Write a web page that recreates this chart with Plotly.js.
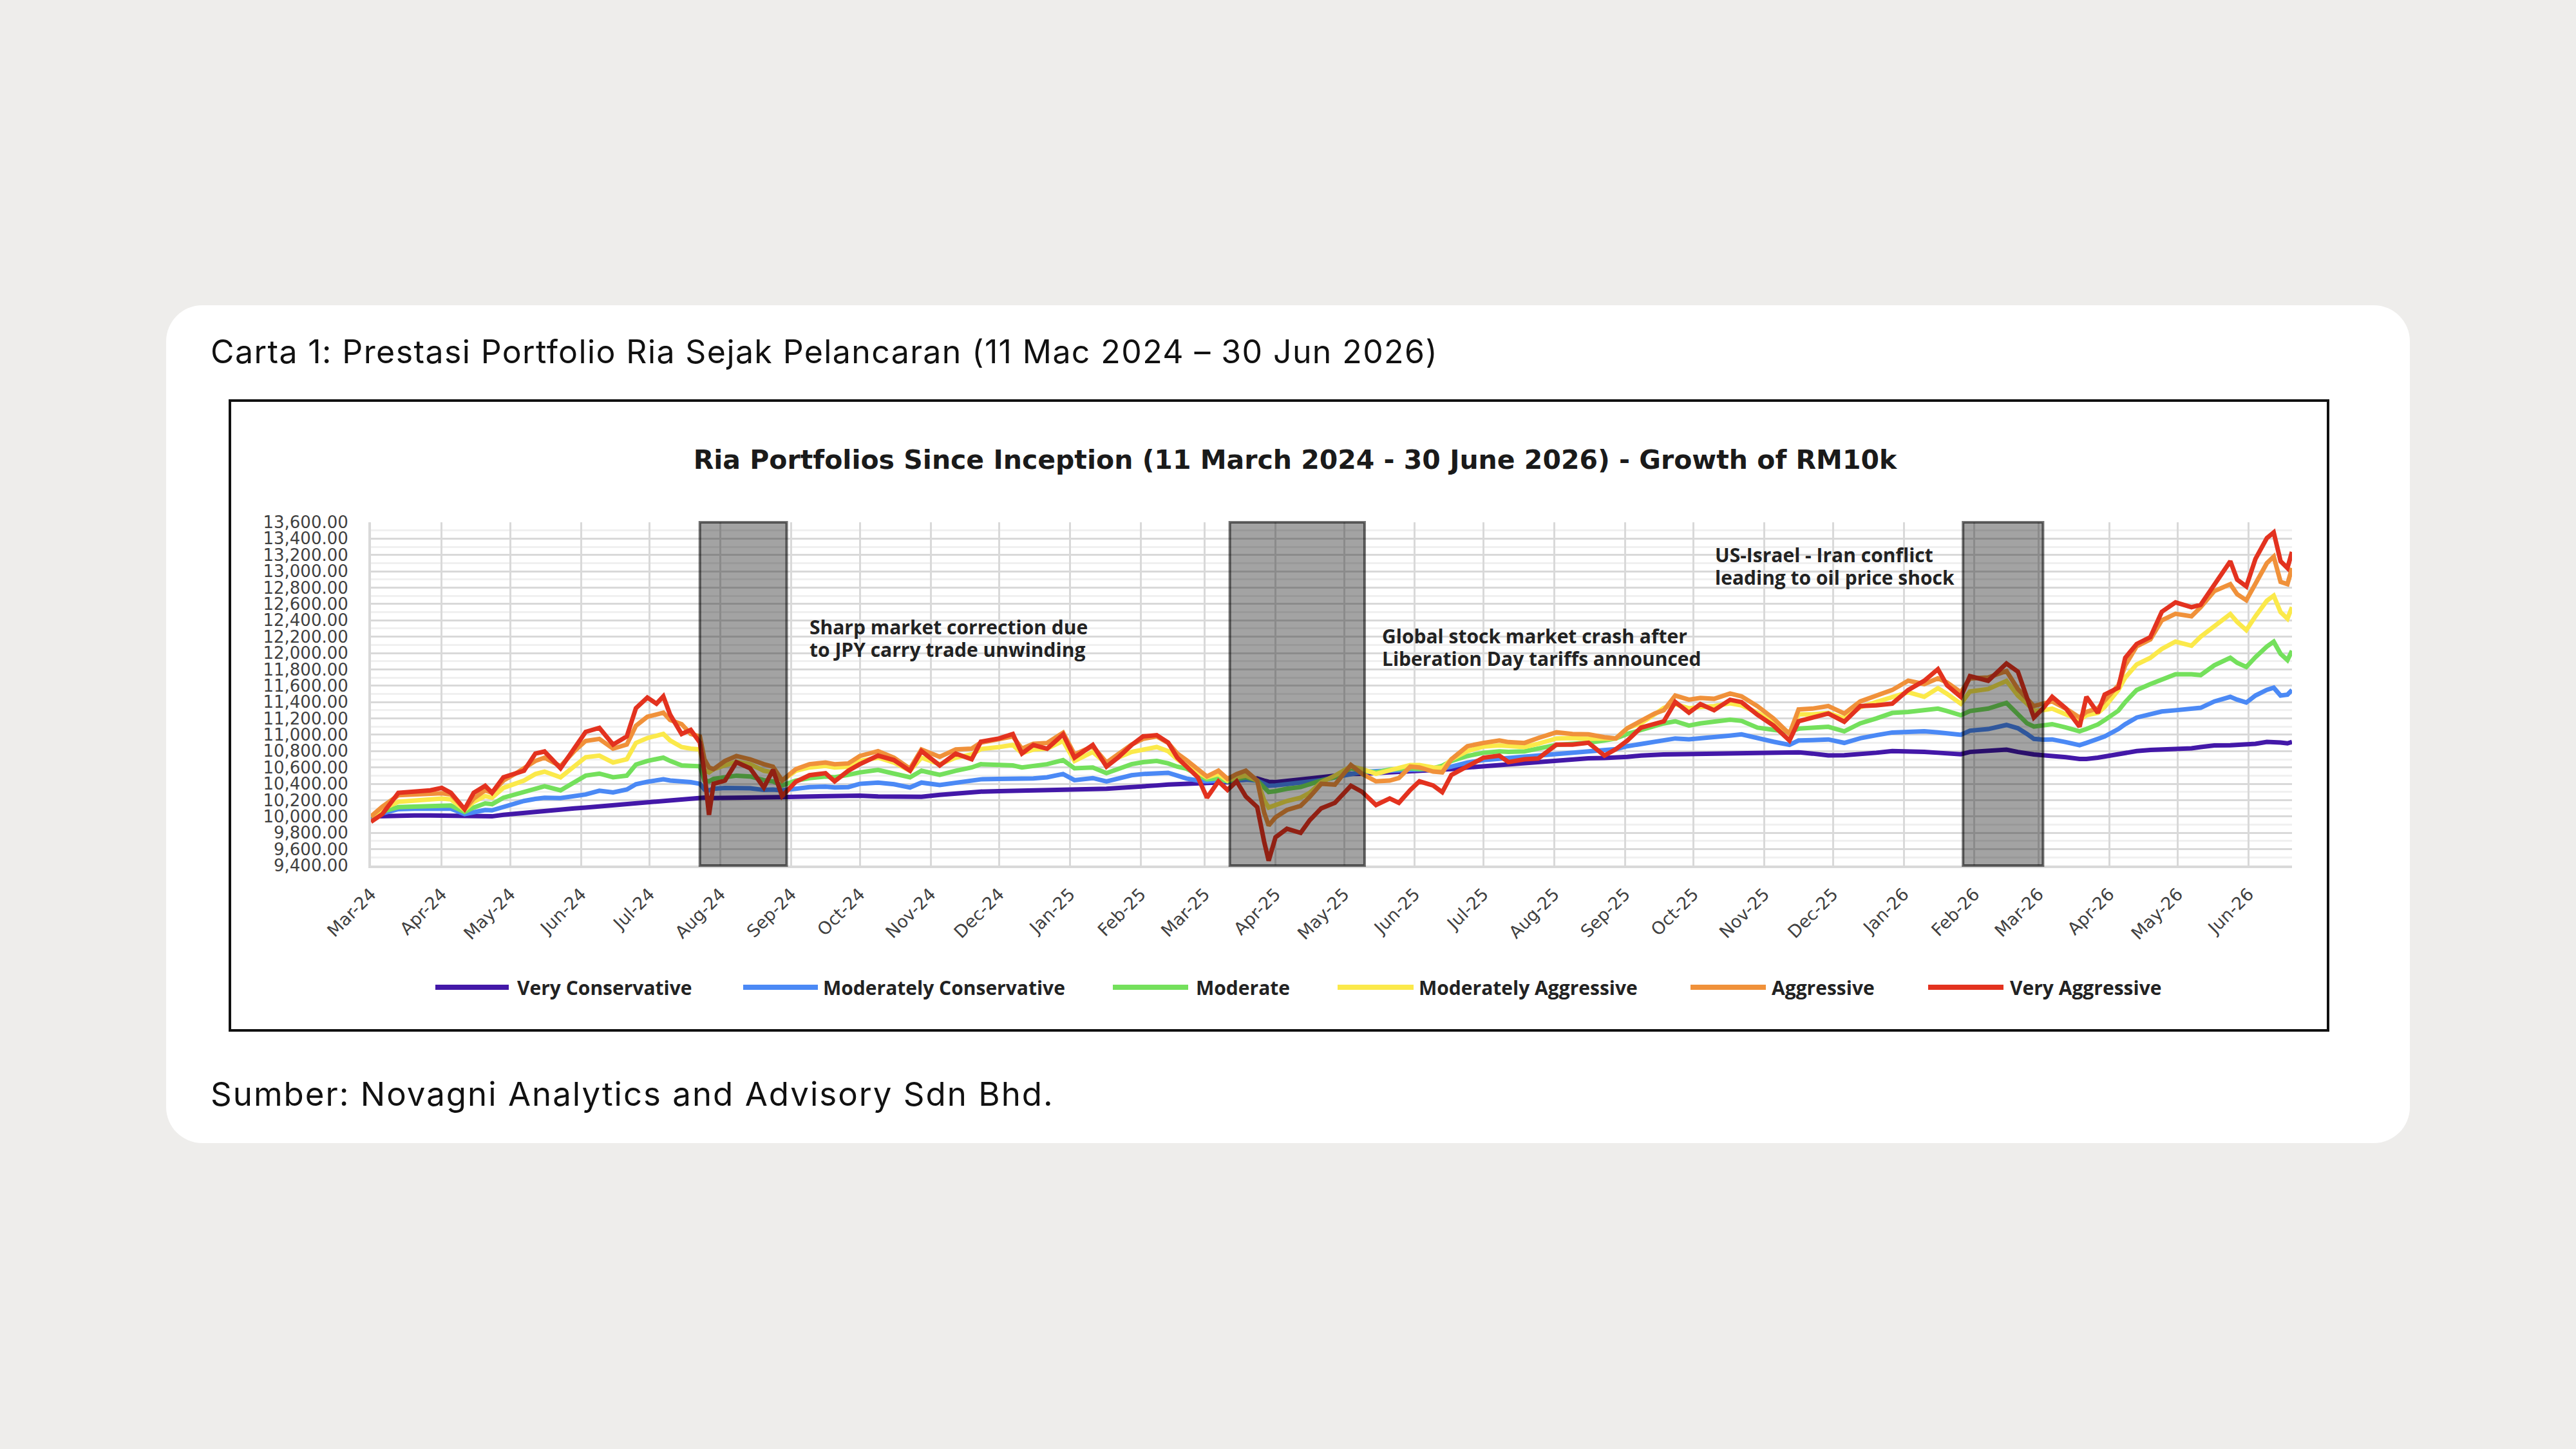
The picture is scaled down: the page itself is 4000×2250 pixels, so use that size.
<!DOCTYPE html>
<html>
<head>
<meta charset="utf-8">
<script src="https://cdn.plot.ly/plotly-3.0.1.min.js"></script>
<style>
  html, body { margin: 0; padding: 0; width: 4000px; height: 2250px; background: #eeedeb; overflow: hidden; }
  .card { position: absolute; left: 258px; top: 474px; width: 3484px; height: 1301px; background: #ffffff; border-radius: 56px; }
  .caption { position: absolute; left: 327px; font-family: Inter, "Noto Sans", sans-serif; font-size: 50px; line-height: 50px; color: #111111; white-space: nowrap; }
  #caption-top { top: 521px; letter-spacing: 1.4px; }
  #caption-bottom { top: 1673px; font-size: 51px; line-height: 51px; letter-spacing: 2px; }
  .frame { position: absolute; left: 355px; top: 620px; width: 3254px; height: 974px; border: 4px solid #111111; background: #ffffff; }
  #chart { width: 3254px; height: 974px; }
</style>
</head>
<body>
<div class="card"></div>
<div class="caption" id="caption-top">Carta 1: Prestasi Portfolio Ria Sejak Pelancaran (11 Mac 2024 – 30 Jun 2026)</div>
<div class="frame"><div id="chart"></div></div>
<div class="caption" id="caption-bottom">Sumber: Novagni Analytics and Advisory Sdn Bhd.</div>
<script>
// ---- Data: portfolio value (RM) of a RM10k investment, sampled dates ----
const dates = [
  '2024-03-11','2024-03-16','2024-03-23','2024-03-30','2024-04-06','2024-04-11','2024-04-15','2024-04-21','2024-04-25','2024-04-30',
  '2024-05-03','2024-05-08','2024-05-13','2024-05-17','2024-05-22','2024-05-26','2024-06-02','2024-06-08','2024-06-13','2024-06-19',
  '2024-06-25','2024-07-01','2024-07-05','2024-07-10','2024-07-14','2024-07-17','2024-07-20','2024-07-25','2024-07-29','2024-08-02',
  '2024-08-04','2024-08-06','2024-08-08','2024-08-13','2024-08-18','2024-08-24','2024-08-30','2024-09-03','2024-09-07','2024-09-13',
  '2024-09-19','2024-09-26','2024-09-30','2024-10-06','2024-10-11','2024-10-19','2024-10-26','2024-11-02','2024-11-07','2024-11-15',
  '2024-11-22','2024-11-29','2024-12-03','2024-12-11','2024-12-17','2024-12-21','2024-12-26','2025-01-01','2025-01-08','2025-01-13',
  '2025-01-21','2025-01-27','2025-02-01','2025-02-07','2025-02-12','2025-02-18','2025-02-23','2025-02-27','2025-03-03','2025-03-08',
  '2025-03-12','2025-03-17','2025-03-21','2025-03-25','2025-03-29','2025-04-03','2025-04-06','2025-04-08','2025-04-11','2025-04-16',
  '2025-04-22','2025-04-26','2025-05-01','2025-05-07','2025-05-14','2025-05-19','2025-05-25','2025-05-31','2025-06-04','2025-06-09',
  '2025-06-13','2025-06-19','2025-06-23','2025-06-27','2025-07-04','2025-07-11','2025-07-18','2025-07-22','2025-07-29','2025-08-04',
  '2025-08-12','2025-08-19','2025-08-26','2025-09-02','2025-09-07','2025-09-12','2025-09-18','2025-09-24','2025-09-28','2025-10-03',
  '2025-10-09','2025-10-14','2025-10-20','2025-10-27','2025-11-01','2025-11-08','2025-11-15','2025-11-22','2025-11-26','2025-12-02',
  '2025-12-09','2025-12-16','2025-12-23','2025-12-30','2026-01-06','2026-01-13','2026-01-20','2026-01-26','2026-01-30','2026-02-05',
  '2026-02-09','2026-02-17','2026-02-25','2026-03-02','2026-03-06','2026-03-09','2026-03-13','2026-03-17','2026-03-23','2026-03-29',
  '2026-04-01','2026-04-06','2026-04-09','2026-04-15','2026-04-18','2026-04-23','2026-04-29','2026-05-04','2026-05-10','2026-05-17',
  '2026-05-21','2026-05-27','2026-06-03','2026-06-06','2026-06-10','2026-06-14','2026-06-19','2026-06-22','2026-06-25','2026-06-28',
  '2026-06-30'
];

const veryConservative = [
  10000,10005,10010,10012,10012,10010,10010,10000,10000,10000,
  10002,10020,10035,10045,10058,10068,10085,10100,10110,10125,
  10140,10155,10165,10175,10185,10192,10198,10205,10220,10235,
  10232,10225,10225,10228,10228,10226,10226,10228,10238,10242,
  10245,10250,10255,10258,10255,10245,10240,10240,10242,10265,
  10285,10295,10305,10310,10312,10315,10318,10320,10325,10330,
  10335,10340,10352,10365,10372,10380,10390,10395,10400,10405,
  10410,10415,10420,10440,10455,10465,10440,10425,10420,10435,
  10455,10465,10490,10505,10520,10522,10530,10545,10550,10555,
  10560,10565,10572,10580,10600,10615,10625,10635,10650,10665,
  10685,10706,10712,10716,10720,10730,10745,10758,10760,10762,
  10765,10766,10768,10770,10771,10770,10772,10775,10785,10770,
  10748,10750,10760,10780,10800,10798,10790,10780,10770,10762,
  10790,10805,10818,10790,10770,10760,10750,10745,10725,10705,
  10705,10720,10735,10760,10785,10800,10815,10820,10825,10835,
  10850,10870,10872,10875,10878,10890,10912,10915,10905,10895,
  10912
];

const moderatelyConservative = [
  10000,10040,10090,10095,10100,10100,10095,10030,10050,10080,
  10075,10120,10160,10190,10215,10230,10225,10255,10270,10315,
  10295,10330,10395,10425,10450,10455,10440,10430,10420,10400,
  10330,10320,10340,10350,10350,10345,10325,10330,10320,10345,
  10360,10365,10355,10360,10400,10415,10395,10355,10415,10385,
  10410,10430,10455,10460,10460,10455,10465,10480,10520,10445,
  10470,10430,10465,10505,10520,10530,10535,10500,10465,10440,
  10430,10440,10430,10440,10450,10440,10400,10375,10380,10395,
  10410,10430,10445,10480,10520,10545,10555,10560,10560,10570,
  10575,10580,10585,10610,10660,10690,10705,10719,10730,10745,
  10772,10785,10797,10805,10824,10860,10890,10915,10935,10955,
  10945,10955,10968,10990,11005,10955,10915,10876,10930,10935,
  10943,10901,10957,10995,11028,11035,11042,11030,11015,11000,
  11050,11070,11120,11080,11010,10950,10940,10943,10910,10873,
  10900,10957,10980,11070,11130,11211,11250,11285,11300,11315,
  11330,11408,11464,11430,11394,11480,11550,11576,11480,11490,
  11548
];

const moderate = [
  10000,10060,10115,10125,10135,10140,10135,10055,10110,10160,
  10150,10230,10270,10300,10350,10370,10320,10420,10500,10525,
  10480,10500,10635,10680,10710,10720,10680,10625,10620,10615,
  10440,10430,10460,10480,10500,10490,10445,10430,10380,10440,
  10470,10490,10480,10510,10540,10570,10530,10480,10560,10510,
  10560,10600,10640,10630,10625,10600,10620,10640,10690,10590,
  10600,10530,10580,10640,10665,10680,10650,10610,10585,10520,
  10455,10470,10430,10460,10480,10440,10350,10300,10310,10340,
  10360,10400,10440,10480,10590,10560,10540,10575,10587,10590,
  10580,10590,10620,10680,10740,10780,10797,10790,10797,10830,
  10876,10890,10903,10930,10955,11010,11060,11110,11140,11165,
  11113,11140,11165,11185,11170,11087,11060,11034,11075,11085,
  11098,11042,11140,11200,11267,11280,11295,11320,11290,11239,
  11290,11320,11390,11250,11140,11100,11120,11130,11090,11042,
  11070,11126,11180,11295,11400,11548,11620,11680,11740,11740,
  11730,11850,11942,11880,11830,11950,12080,12139,11990,11914,
  12027
];

const moderatelyAggressive = [
  10000,10090,10180,10195,10210,10220,10210,10080,10180,10250,
  10230,10350,10400,10440,10520,10550,10480,10620,10725,10745,
  10660,10700,10900,10960,10990,11010,10930,10850,10830,10820,
  10570,10540,10580,10620,10670,10640,10560,10540,10440,10560,
  10600,10620,10600,10610,10680,10720,10660,10560,10720,10640,
  10720,10760,10825,10850,10875,10775,10820,10830,10925,10680,
  10790,10645,10720,10790,10815,10850,10800,10700,10620,10550,
  10480,10520,10440,10480,10500,10440,10200,10110,10140,10190,
  10230,10290,10420,10500,10614,10580,10522,10570,10590,10630,
  10630,10600,10595,10700,10800,10855,10870,10860,10850,10890,
  10955,10960,10950,10955,10955,11080,11140,11250,11330,11375,
  11323,11340,11350,11385,11360,11270,11160,11020,11250,11250,
  11267,11200,11337,11400,11464,11520,11464,11570,11500,11380,
  11530,11560,11660,11480,11380,11295,11300,11320,11250,11182,
  11240,11267,11340,11548,11700,11860,11942,12050,12140,12090,
  12200,12336,12477,12380,12280,12450,12640,12702,12500,12420,
  12561
];

const aggressive = [
  10000,10120,10260,10270,10275,10285,10270,10090,10220,10320,
  10290,10440,10520,10590,10680,10720,10615,10800,10925,10950,
  10830,10880,11110,11220,11250,11270,11180,11130,11010,10980,
  10700,10600,10580,10680,10740,10700,10640,10610,10440,10580,
  10640,10660,10640,10650,10740,10800,10720,10585,10820,10730,
  10820,10830,10905,10940,10980,10830,10890,10900,11025,10760,
  10860,10660,10760,10880,10950,10980,10900,10770,10690,10580,
  10490,10560,10460,10520,10560,10440,10050,9890,9990,10080,
  10130,10240,10400,10390,10630,10520,10430,10440,10470,10610,
  10600,10550,10540,10700,10860,10900,10930,10910,10900,10960,
  11030,11010,11005,10970,10955,11080,11170,11260,11300,11480,
  11430,11450,11440,11505,11470,11350,11200,11010,11310,11320,
  11351,11260,11408,11480,11548,11661,11620,11690,11640,11520,
  11690,11700,11780,11560,11450,11351,11380,11408,11320,11211,
  11280,11323,11420,11605,11850,12083,12167,12400,12480,12449,
  12560,12758,12843,12720,12646,12850,13100,13180,12871,12843,
  13040
];

const veryAggressive = [
  9935,10030,10290,10300,10320,10350,10290,10090,10290,10375,
  10290,10480,10520,10560,10770,10795,10590,10825,11035,11085,
  10880,10980,11325,11455,11380,11470,11245,11010,11060,10905,
  10535,10020,10400,10440,10665,10590,10355,10570,10250,10425,
  10505,10530,10430,10560,10640,10745,10690,10560,10800,10625,
  10770,10700,10915,10955,11010,10770,10875,10830,11005,10720,
  10875,10610,10720,10875,10980,10995,10905,10720,10615,10480,
  10230,10430,10325,10430,10245,10115,9695,9460,9745,9850,
  9800,9955,10100,10167,10377,10300,10141,10220,10167,10325,
  10430,10380,10298,10508,10614,10719,10745,10666,10700,10710,
  10880,10880,10902,10745,10824,10929,11087,11130,11165,11402,
  11270,11375,11300,11428,11400,11244,11113,10929,11165,11210,
  11260,11160,11351,11360,11380,11548,11661,11802,11605,11464,
  11717,11661,11872,11773,11450,11211,11323,11464,11323,11098,
  11464,11267,11492,11576,11942,12111,12195,12505,12620,12561,
  12590,12843,13124,12899,12815,13152,13406,13476,13124,13040,
  13237
];

const seriesNames = ['Very Conservative', 'Moderately Conservative', 'Moderate',
                     'Moderately Aggressive', 'Aggressive', 'Very Aggressive'];
const seriesValues = [veryConservative, moderatelyConservative, moderate,
                      moderatelyAggressive, aggressive, veryAggressive];

// Market stress periods (shaded bands) and their notes
const eventStart = ['2024-08-02', '2025-03-22', '2026-02-06'];
const eventEnd   = ['2024-09-09', '2025-05-20', '2026-03-13'];
const eventNotes = [
  ['Sharp market correction due', 'to JPY carry trade unwinding'],
  ['Global stock market crash after', 'Liberation Day tariffs announced'],
  ['US-Israel - Iran conflict', 'leading to oil price shock']
];

// ---- Styling ----
const colors = ['#4318a8', '#4b89f5', '#74e05c', '#fbe94a', '#f0913a', '#e3321f'];

// page-pixel geometry of the plotting area (the chart div sits at 359,624)
const DIV = { left: 359, top: 624, w: 3254, h: 974 };
const PLOT = { x0: 576, x1: 3559, y0: 811, y1: 1344 };
const px = X => (X - PLOT.x0) / (PLOT.x1 - PLOT.x0);
const py = Y => (PLOT.y1 - Y) / (PLOT.y1 - PLOT.y0);

// note text placement (page px: left edge, line centres)
const notePos = [ [1255, 973, 1008], [2144, 987, 1022], [2661, 861, 896] ];
// legend placement (page px: line start, line end, text start), one row at y=1533
const legendPos = [ [676, 790, 801], [1154, 1270, 1276], [1728, 1845, 1855],
                    [2077, 2195, 2201], [2625, 2742, 2749], [2994, 3111, 3119] ];
const legendY = 1533;

const traces = seriesNames.map((name, i) => ({
  type: 'scatter',
  mode: 'lines',
  name: name,
  x: dates,
  y: seriesValues[i],
  line: { color: colors[i], width: 7 },
  showlegend: false,
  hoverinfo: 'skip'
}));

const shapes = [];
eventStart.forEach((s, i) => {
  shapes.push({
    type: 'rect', xref: 'x', yref: 'paper',
    x0: s, x1: eventEnd[i], y0: 0, y1: 1,
    fillcolor: 'rgba(0,0,0,0.36)',
    line: { color: 'rgba(0,0,0,0.55)', width: 4 },
    layer: 'above'
  });
});
legendPos.forEach((p, i) => {
  shapes.push({
    type: 'line', xref: 'paper', yref: 'paper',
    x0: px(p[0]), x1: px(p[1]), y0: py(legendY), y1: py(legendY),
    line: { color: colors[i], width: 8 }
  });
});

const noteFont = { family: '"Open Sans", "DejaVu Sans", sans-serif', size: 30, color: '#222222', weight: 700 };
const annotations = [];
eventNotes.forEach((lines, i) => {
  lines.forEach((t, k) => {
    annotations.push({
      xref: 'paper', yref: 'paper', x: px(notePos[i][0]), y: py(notePos[i][k + 1]),
      xanchor: 'left', yanchor: 'middle', showarrow: false,
      text: t, font: noteFont
    });
  });
});
legendPos.forEach((p, i) => {
  annotations.push({
    xref: 'paper', yref: 'paper', x: px(p[2]), y: py(legendY),
    xanchor: 'left', yanchor: 'middle', showarrow: false,
    text: seriesNames[i], font: noteFont
  });
});

const tickFont = { family: '"DejaVu Sans", sans-serif', size: 26, color: '#404040' };

const layout = {
  width: DIV.w, height: DIV.h,
  margin: { l: PLOT.x0 - DIV.left, r: DIV.left + DIV.w - PLOT.x1, t: PLOT.y0 - DIV.top, b: DIV.top + DIV.h - PLOT.y1, pad: 0 },
  paper_bgcolor: '#ffffff', plot_bgcolor: '#ffffff',
  showlegend: false,
  title: {
    text: '<b>Ria Portfolios Since Inception (11 March 2024 - 30 June 2026) - Growth of RM10k</b>',
    x: (2011 - DIV.left) / DIV.w, xref: 'container', xanchor: 'center',
    y: 1 - (714 - DIV.top) / DIV.h, yref: 'container', yanchor: 'middle',
    font: { family: '"DejaVu Sans", sans-serif', size: 41, color: '#1a1a1a' }
  },
  xaxis: {
    type: 'date',
    range: ['2024-03-11', '2026-06-30'],
    tick0: '2024-03-11', dtick: 'M1', tickformat: '%b-%y',
    tickangle: -45, ticks: '', ticklabelstandoff: 14,
    tickfont: { family: '"DejaVu Sans", sans-serif', size: 27, color: '#404040' },
    showgrid: true, gridcolor: '#d9d9d9', gridwidth: 3,
    showline: true, linecolor: '#d9d9d9', linewidth: 4,
    zeroline: false, automargin: false, fixedrange: true
  },
  yaxis: {
    range: [9400, 13600], tick0: 9400, dtick: 200, tickformat: ',.2f',
    ticks: '', ticklabelstandoff: 26,
    tickfont: tickFont,
    showgrid: true, gridcolor: '#d9d9d9', gridwidth: 3,
    minor: { dtick: 100, showgrid: true, gridcolor: '#f0f0f0', gridwidth: 3 },
    showline: true, linecolor: '#d9d9d9', linewidth: 4,
    zeroline: false, automargin: false, fixedrange: true
  },
  shapes: shapes,
  annotations: annotations
};

Plotly.newPlot('chart', traces, layout, { displayModeBar: false, staticPlot: true });
</script>
</body>
</html>
